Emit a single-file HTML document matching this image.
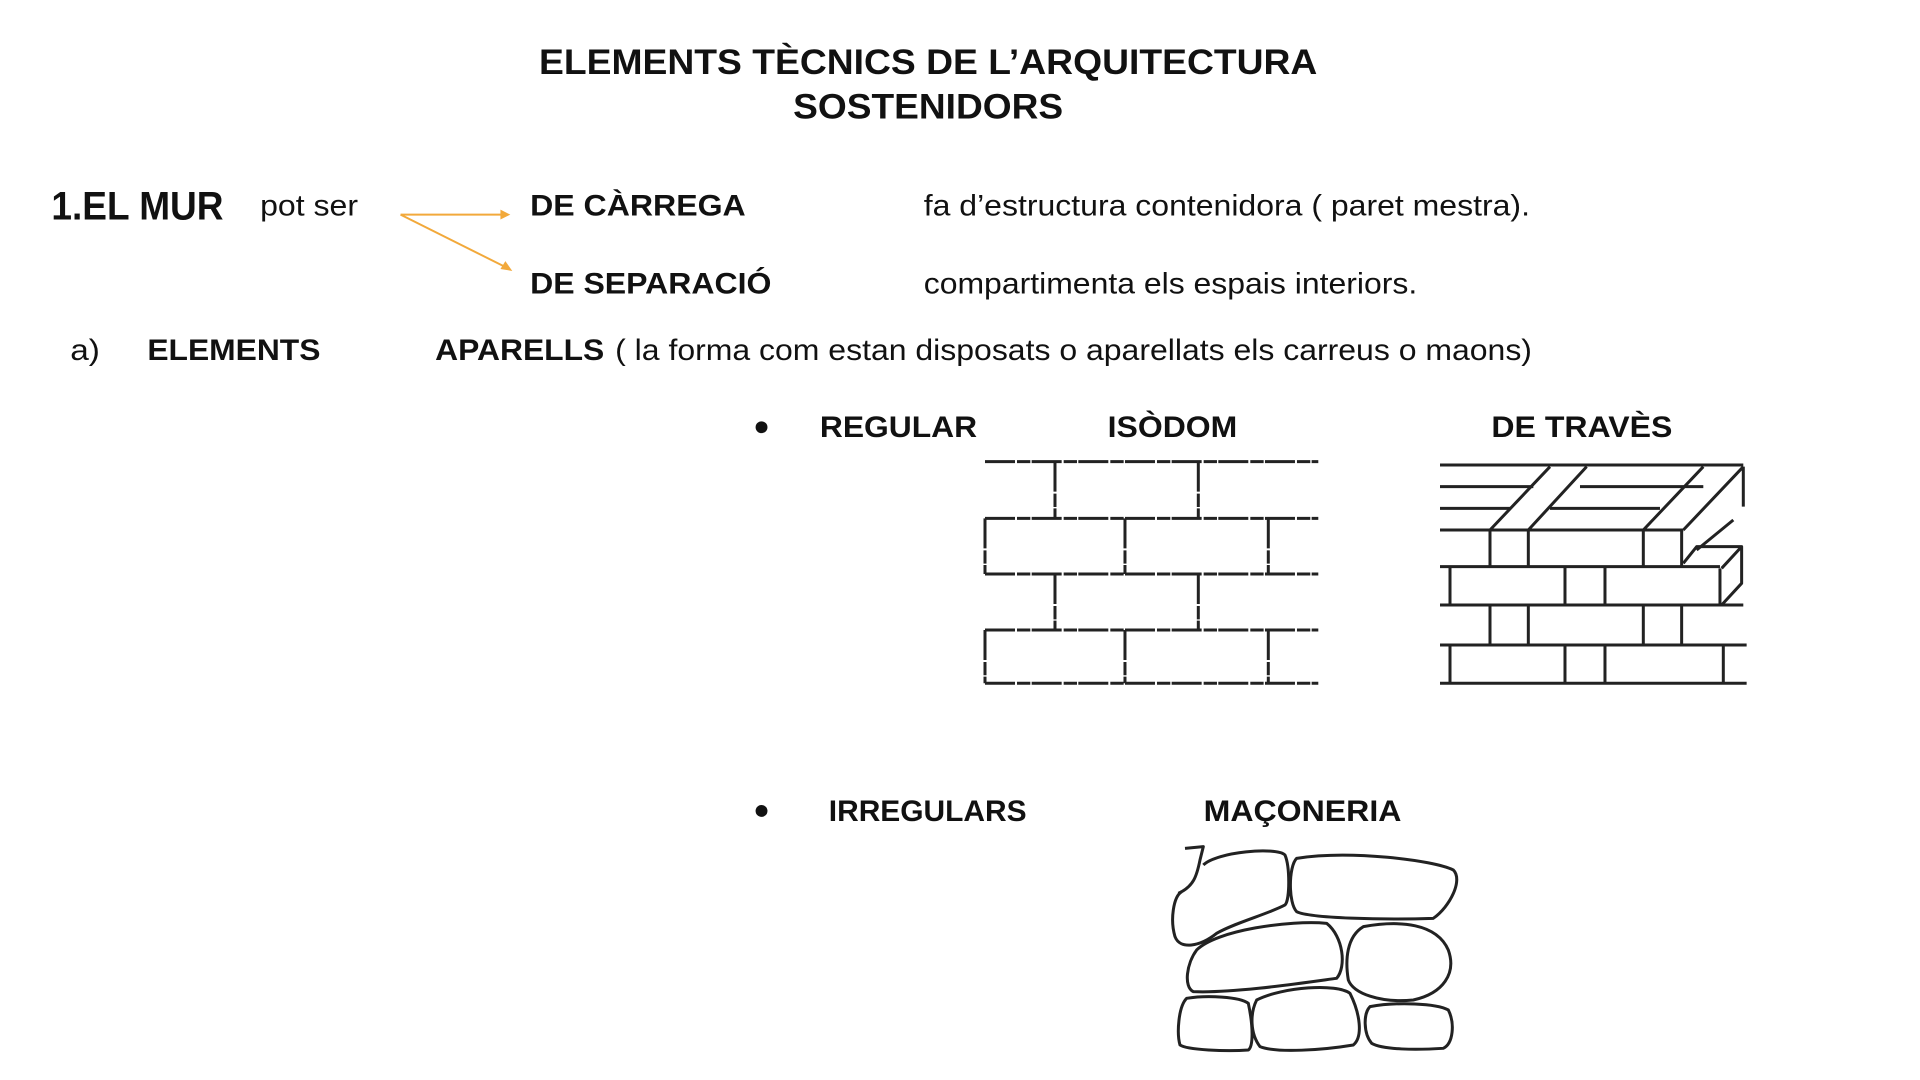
<!DOCTYPE html>
<html><head><meta charset="utf-8"><style>
html,body{margin:0;padding:0;background:#fff;}
svg{display:block;}
text{font-family:"Liberation Sans",Arial,sans-serif;fill:#111;}
.b{font-weight:bold;}
</style></head><body>
<svg width="1920" height="1080" viewBox="0 0 1920 1080" xmlns="http://www.w3.org/2000/svg">
<g transform="scale(0.989)">
<text class="b" x="545" y="75" font-size="36" textLength="787" lengthAdjust="spacingAndGlyphs">ELEMENTS TÈCNICS DE L’ARQUITECTURA</text>
<text class="b" x="802" y="120" font-size="36" textLength="273" lengthAdjust="spacingAndGlyphs">SOSTENIDORS</text>

<text class="b" x="52" y="222" font-size="40" textLength="174" lengthAdjust="spacingAndGlyphs">1.EL MUR</text>
<text x="263" y="218" font-size="30" textLength="99" lengthAdjust="spacingAndGlyphs">pot ser</text>
<g stroke="#f2a93b" stroke-width="2" fill="#f2a93b">
<line x1="405" y1="217" x2="510" y2="217"/>
<polygon points="516,217 506,212 506,222" stroke="none"/>
<line x1="405" y1="217" x2="513" y2="271"/>
<polygon points="518,274 506,272 511,264" stroke="none"/>
</g>
<text class="b" x="536" y="218" font-size="30" textLength="218" lengthAdjust="spacingAndGlyphs">DE CÀRREGA</text>
<text x="934" y="218" font-size="30" textLength="613" lengthAdjust="spacingAndGlyphs">fa d’estructura contenidora ( paret mestra).</text>
<text class="b" x="536" y="297" font-size="30" textLength="244" lengthAdjust="spacingAndGlyphs">DE SEPARACIÓ</text>
<text x="934" y="297" font-size="30" textLength="499" lengthAdjust="spacingAndGlyphs">compartimenta els espais interiors.</text>

<text x="71" y="364" font-size="30" textLength="30" lengthAdjust="spacingAndGlyphs">a)</text>
<text class="b" x="149" y="364" font-size="30" textLength="175" lengthAdjust="spacingAndGlyphs">ELEMENTS</text>
<text class="b" x="440" y="364" font-size="30" textLength="171" lengthAdjust="spacingAndGlyphs">APARELLS</text>
<text x="622" y="364" font-size="30" textLength="927" lengthAdjust="spacingAndGlyphs">( la forma com estan disposats o aparellats els carreus o maons)</text>

<circle cx="770" cy="432" r="6" fill="#111"/>
<text class="b" x="829" y="442" font-size="30" textLength="159" lengthAdjust="spacingAndGlyphs">REGULAR</text>
<text class="b" x="1120" y="442" font-size="30" textLength="131" lengthAdjust="spacingAndGlyphs">ISÒDOM</text>
<text class="b" x="1508" y="442" font-size="30" textLength="183" lengthAdjust="spacingAndGlyphs">DE TRAVÈS</text>

<circle cx="770" cy="820" r="6" fill="#111"/>
<text class="b" x="838" y="830" font-size="30" textLength="200" lengthAdjust="spacingAndGlyphs">IRREGULARS</text>
<text class="b" x="1217" y="830" font-size="30" textLength="200" lengthAdjust="spacingAndGlyphs">MAÇONERIA</text>
</g>

<!-- Isodom -->
<g transform="translate(980,450) scale(0.3333)" stroke="#222" stroke-width="9" fill="none" stroke-dasharray="90 6 40 4">
<path d="M15,35H1015M15,205H1015M15,372H1015M15,540H1015M15,700H1015"/>
<path d="M225,35V205M655,35V205M15,205V372M435,205V372M865,205V372M225,372V540M655,372V540M15,540V700M435,540V700M865,540V700"/>
</g>

<!-- De traves -->
<g transform="translate(1440,450) scale(0.3333)" stroke="#222" stroke-width="9" fill="none" stroke-linejoin="round">
<path d="M0,45H910M0,110H280M420,110H790M0,175H210M330,175H660M0,240H730M0,350H840M0,465H910M0,585H920M0,700H920"/>
<path d="M150,240L330,50M265,240L440,50M610,240L790,50M730,240L910,50M910,50V170M880,210L770,300"/>
<path d="M730,340L770,290H905V400L845,465M840,355V465M905,290L845,355"/>
<path d="M150,240V350M265,240V350M610,240V350M725,240V350M30,350V465M375,350V465M495,350V465M150,465V585M265,465V585M610,465V585M725,465V585M30,585V700M375,585V700M495,585V700M850,585V700"/>
</g>

<!-- Maçoneria -->
<g transform="translate(1150,840) scale(0.3333)" stroke="#222" stroke-width="9" fill="none" stroke-linejoin="round">
<path d="M105,25L160,20L150,60C140,110 130,140 85,160"/>
<path d="M160,75C200,35 380,20 405,45C420,80 420,180 405,195C360,220 250,250 200,280C150,320 90,330 75,290C60,240 70,170 95,155"/>
<path d="M440,55C600,30 850,60 910,90C940,120 900,200 850,235C700,240 480,235 440,215C415,190 415,80 440,55Z"/>
<path d="M140,330C200,270 420,240 530,250C580,290 590,380 560,415C450,430 250,460 130,455C100,440 110,370 140,330Z"/>
<path d="M640,260C750,240 860,250 895,330C920,400 880,460 790,480C690,490 610,460 595,420C585,360 590,290 640,260Z"/>
<path d="M110,475C170,465 270,470 295,490C310,560 310,620 295,630C230,635 110,630 90,615C80,580 85,500 110,475Z"/>
<path d="M320,480C400,440 560,430 600,460C630,520 640,590 610,615C520,630 380,640 330,620C300,580 300,520 320,480Z"/>
<path d="M660,500C740,485 860,490 895,510C915,550 910,610 880,625C800,630 700,630 665,610C640,580 640,520 660,500Z"/>
</g>
</svg>
</body></html>
